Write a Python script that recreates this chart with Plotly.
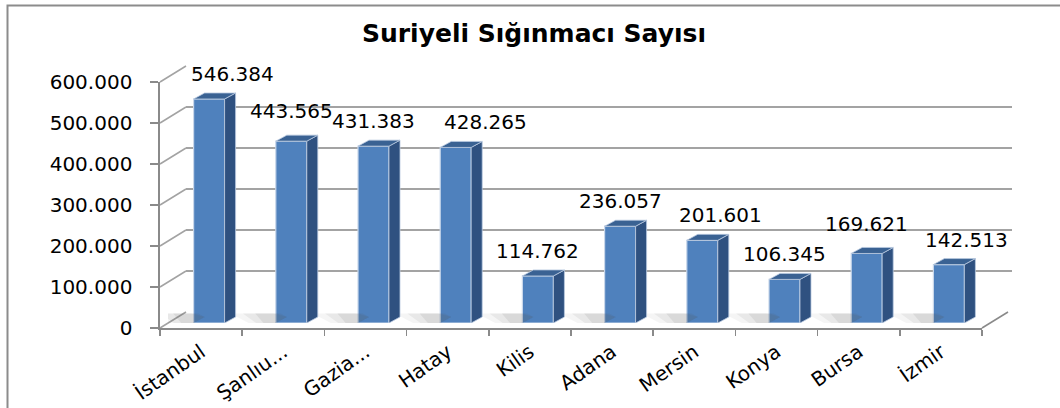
import plotly.graph_objects as go

# ---------------- data ----------------
categories = ["İstanbul", "Şanlıu...", "Gazia...", "Hatay", "Kilis",
              "Adana", "Mersin", "Konya", "Bursa", "İzmir"]
refugees = [546384, 443565, 431383, 428265, 114762,
            236057, 201601, 106345, 169621, 142513]
y_tick_values = [0, 100000, 200000, 300000, 400000, 500000, 600000]
title_text = "Suriyeli Sığınmacı Sayısı"

# ---------------- geometry / style (pixels) ----------------
W, H = 1060, 408
YMAX = 600000
N = len(categories)
FRONT = dict(x0=160, x1=982, y0=328, y1=82)      # front plane (axis labels)
BACK_OFF = (26, -16)                              # back wall offset
BAR_OFF = (8, -5)                                 # bar front faces offset
BAR_W_PX, SIDE_DX_PX, SIDE_DY_PX = 31, 11, 6
FONT = "DejaVu Sans"
FRONT_COL, SIDE_COL, TOP_COL = "#4f81bd", "#2f5180", "#3a6293"
AXIS_COL, GRID_COL = "#8a8a8a", "#a3a3a3"
LABEL_NUDGE = {0: (23, 0), 1: (0, 5), 3: (30, 0), 6: (18, 0), 8: (0, 4), 9: (18, 0)}


def xdom(x0, x1):
    return [x0 / W, x1 / W]


def ydom(y0, y1):
    return [(H - y0) / H, (H - y1) / H]


def shifted(off):
    return dict(x0=FRONT["x0"] + off[0], x1=FRONT["x1"] + off[0],
                y0=FRONT["y0"] + off[1], y1=FRONT["y1"] + off[1])


BACK = shifted(BACK_OFF)
BARS = shifted(BAR_OFF)
px_per_cat = (FRONT["x1"] - FRONT["x0"]) / N
px_per_val = (FRONT["y0"] - FRONT["y1"]) / YMAX

half_w = BAR_W_PX / px_per_cat / 2
side_dx = SIDE_DX_PX / px_per_cat
side_dy = SIDE_DY_PX / px_per_val

fig = go.Figure()

# floor shadows (soft, layered) to the left of each bar base
for k, (ext, op) in enumerate([(0.55, 0.06), (0.40, 0.08), (0.25, 0.10)]):
    sx, sy = [], []
    for i, v in enumerate(refugees):
        c = i + 0.5
        xl = c - half_w
        sx += [xl - ext, xl + side_dx - ext * 0.3, xl + side_dx, xl, xl - ext * 0.6, None]
        sy += [side_dy * 1.6, side_dy * 1.6, side_dy, 0, 0, None]
    fig.add_trace(go.Scatter(x=sx, y=sy, fill="toself", mode="none",
                             fillcolor=f"rgba(90,90,90,{op})",
                             xaxis="x3", yaxis="y3", hoverinfo="skip",
                             showlegend=False))

# bar front faces
x_centers = [i + 0.5 for i in range(N)]
fig.add_trace(go.Bar(x=x_centers, y=refugees, width=2 * half_w,
                     marker=dict(color=FRONT_COL, line=dict(color="#c9d7ea", width=1.2)),
                     xaxis="x3", yaxis="y3", showlegend=False, hoverinfo="skip"))

# side and top faces derived from the values
side_x, side_y, top_x, top_y = [], [], [], []
for c, v in zip(x_centers, refugees):
    xl, xr = c - half_w, c + half_w
    side_x += [xr, xr, xr + side_dx, xr + side_dx, xr, None]
    side_y += [0, v, v + side_dy, side_dy, 0, None]
    top_x += [xl, xr, xr + side_dx, xl + side_dx, xl, None]
    top_y += [v, v, v + side_dy, v + side_dy, v, None]
fig.add_trace(go.Scatter(x=side_x, y=side_y, fill="toself", mode="lines",
                         line=dict(color="#b9c9df", width=0.8), fillcolor=SIDE_COL,
                         xaxis="x3", yaxis="y3", hoverinfo="skip", showlegend=False))
fig.add_trace(go.Scatter(x=top_x, y=top_y, fill="toself", mode="lines",
                         line=dict(color="#b9c9df", width=0.8), fillcolor=TOP_COL,
                         xaxis="x3", yaxis="y3", hoverinfo="skip", showlegend=False))

# invisible traces so that front / back axes render
fig.add_trace(go.Scatter(x=[0], y=[0], mode="markers", marker=dict(opacity=0),
                         xaxis="x", yaxis="y", hoverinfo="skip", showlegend=False))
fig.add_trace(go.Scatter(x=[0], y=[0], mode="markers", marker=dict(opacity=0),
                         xaxis="x2", yaxis="y2", hoverinfo="skip", showlegend=False))

# data labels
annotations = []
for i, (c, v) in enumerate(zip(x_centers, refugees)):
    nx, ny = LABEL_NUDGE.get(i, (0, 0))
    annotations.append(dict(x=c, y=v, xref="x3", yref="y3",
                            text=f"{v:,}".replace(",", "."), showarrow=False,
                            xanchor="center", yanchor="bottom",
                            xshift=nx, yshift=11 + ny,
                            font=dict(family=FONT, size=20, color="#000000")))

# side-wall diagonals and right floor edge
shapes = []
for v in y_tick_values:
    yf = FRONT["y0"] - v * px_per_val
    shapes.append(dict(type="line", xref="paper", yref="paper",
                       x0=FRONT["x0"] / W, y0=(H - yf) / H,
                       x1=BACK["x0"] / W, y1=(H - (yf + BACK_OFF[1])) / H,
                       line=dict(color=GRID_COL, width=1.6), layer="below"))
shapes.append(dict(type="line", xref="paper", yref="paper",
                   x0=FRONT["x1"] / W, y0=(H - FRONT["y0"]) / H,
                   x1=BACK["x1"] / W, y1=(H - BACK["y0"]) / H,
                   line=dict(color=AXIS_COL, width=1.6)))
# outer chart border
shapes.append(dict(type="rect", xref="paper", yref="paper",
                   x0=7.5 / W, y0=-0.05, x1=1.05, y1=(H - 5.5) / H,
                   line=dict(color="#8c8c8c", width=2), fillcolor="rgba(0,0,0,0)"))

fig.update_layout(
    template="none",
    width=W, height=H, autosize=False,
    margin=dict(l=0, r=0, t=0, b=0, pad=0, autoexpand=False),
    paper_bgcolor="white", plot_bgcolor="rgba(0,0,0,0)",
    separators=",.",
    showlegend=False,
    title=dict(text=title_text, x=534 / W, xanchor="center", xref="paper",
               y=(H - 33) / H, yanchor="middle", yref="paper", automargin=False,
               font=dict(family=FONT, size=25, color="#000000", weight="bold")),
    xaxis=dict(domain=xdom(FRONT["x0"], FRONT["x1"]), range=[0, N],
               tickvals=x_centers, ticktext=categories, tickangle=-35,
               ticks="", showgrid=False, zeroline=False, automargin=False,
               showline=True, linecolor=AXIS_COL, linewidth=1.6,
               tickfont=dict(family=FONT, size=20, color="#000000"),
               ticklabelstandoff=3,
               minor=dict(tick0=0, dtick=1, ticks="outside", ticklen=6,
                          tickcolor=AXIS_COL, tickwidth=1.6, showgrid=False),
               anchor="y", fixedrange=True),
    yaxis=dict(domain=ydom(FRONT["y0"], FRONT["y1"]), range=[0, YMAX],
               tickvals=y_tick_values, tickformat=",d", ticks="outside",
               ticklen=8, tickcolor=AXIS_COL, tickwidth=1.6, automargin=False,
               showline=True, linecolor=AXIS_COL, linewidth=1.6,
               showgrid=False, zeroline=False, ticklabelstandoff=14,
               tickfont=dict(family=FONT, size=20, color="#000000"),
               anchor="x", fixedrange=True),
    xaxis2=dict(domain=xdom(BACK["x0"], BACK["x1"] + 4), range=[0, N],
                visible=True, showticklabels=False, ticks="", showgrid=False,
                automargin=False,
                zeroline=False, showline=False, anchor="y2", fixedrange=True),
    yaxis2=dict(domain=ydom(BACK["y0"], BACK["y1"]), range=[0, YMAX],
                tickvals=y_tick_values, showticklabels=False, ticks="",
                showgrid=True, gridcolor=GRID_COL, gridwidth=2.5, automargin=False,
                zeroline=False, showline=False, anchor="x2", fixedrange=True),
    xaxis3=dict(domain=xdom(BARS["x0"], BARS["x1"]), range=[0, N], automargin=False,
                visible=False, anchor="y3", fixedrange=True),
    yaxis3=dict(domain=ydom(BARS["y0"], BARS["y1"]), range=[0, YMAX], automargin=False,
                visible=False, anchor="x3", fixedrange=True),
    annotations=annotations,
    shapes=shapes,
)

fig.write_html(
    "out.html",
    config={"displayModeBar": False, "staticPlot": True},
    post_script="document.body.style.margin='0';document.body.style.padding='0';",
)
